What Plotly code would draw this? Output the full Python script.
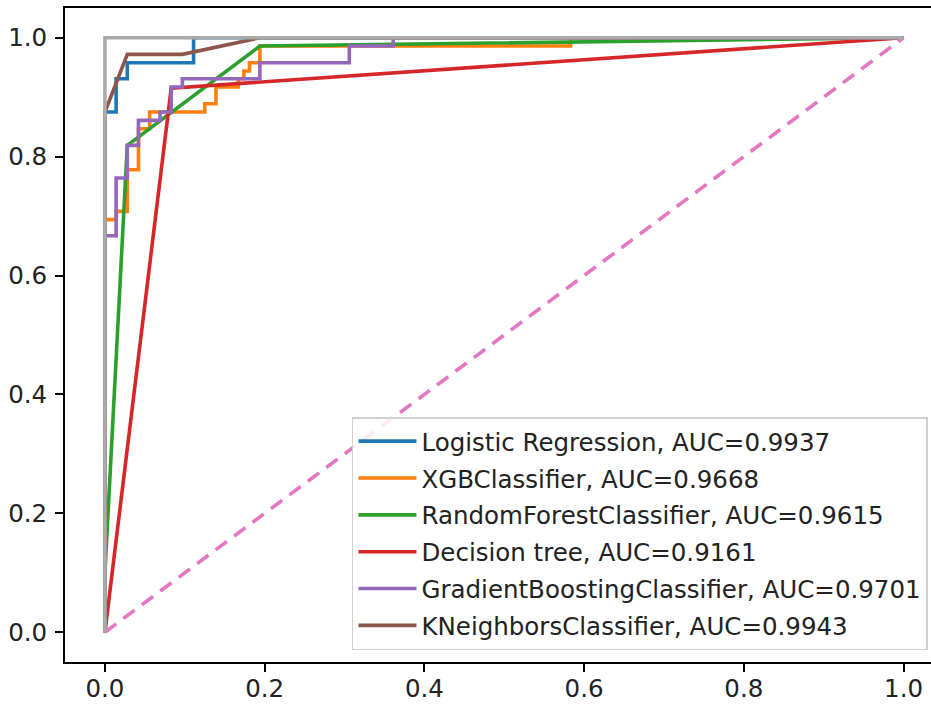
import plotly.graph_objects as go

# ROC curve points (false positive rate, true positive rate) per model
lr_fpr = [0.0, 0.0, 0.014, 0.014, 0.028, 0.028, 0.111, 0.111, 1.0]
lr_tpr = [0.0, 0.875, 0.875, 0.931, 0.931, 0.958, 0.958, 1.0, 1.0]

xgb_fpr = [0.0, 0.0, 0.014, 0.014, 0.028, 0.028, 0.042, 0.042, 0.056, 0.056, 0.125, 0.125,
           0.139, 0.139, 0.167, 0.167, 0.174, 0.174, 0.181, 0.181, 0.194, 0.194, 0.583, 0.583, 1.0]
xgb_tpr = [0.0, 0.694, 0.694, 0.708, 0.708, 0.778, 0.778, 0.847, 0.847, 0.875, 0.875, 0.889,
           0.889, 0.917, 0.917, 0.931, 0.931, 0.944, 0.944, 0.958, 0.958, 0.986, 0.986, 1.0, 1.0]

rf_fpr = [0.0, 0.0, 0.028, 0.194, 1.0]
rf_tpr = [0.0, 0.1, 0.819, 0.986, 1.0]

dt_fpr = [0.0, 0.083, 1.0]
dt_tpr = [0.0, 0.915, 1.0]

gb_fpr = [0.0, 0.0, 0.014, 0.014, 0.028, 0.028, 0.042, 0.042, 0.069, 0.069, 0.083, 0.083,
          0.097, 0.097, 0.194, 0.194, 0.306, 0.306, 0.361, 0.361, 1.0]
gb_tpr = [0.0, 0.667, 0.667, 0.764, 0.764, 0.819, 0.819, 0.861, 0.861, 0.875, 0.875, 0.917,
          0.917, 0.931, 0.931, 0.958, 0.958, 0.986, 0.986, 1.0, 1.0]

knn_fpr = [0.0, 0.0, 0.028, 0.097, 0.194, 1.0]
knn_tpr = [0.0, 0.875, 0.972, 0.972, 1.0, 1.0]

model_names = ["Logistic Regression", "XGBClassifier", "RandomForestClassifier",
               "Decision tree", "GradientBoostingClassifier", "KNeighborsClassifier"]
model_auc = [0.9937, 0.9668, 0.9615, 0.9161, 0.9701, 0.9943]
model_colors = ["#1f77b4", "#ff7f0e", "#2ca02c", "#d62728", "#9467bd", "#8c564b"]

# reference lines: random guess and perfect classifier
chance_x = [0.0, 1.0]
chance_y = [0.0, 1.0]
perfect_x = [0.0, 0.0, 1.0]
perfect_y = [0.0, 1.0, 1.0]

x_ticks = [0.0, 0.2, 0.4, 0.6, 0.8, 1.0]
y_ticks = [0.0, 0.2, 0.4, 0.6, 0.8, 1.0]

curves = [(lr_fpr, lr_tpr), (xgb_fpr, xgb_tpr), (rf_fpr, rf_tpr),
          (dt_fpr, dt_tpr), (gb_fpr, gb_tpr), (knn_fpr, knn_tpr)]

FONT = "DejaVu Sans"

fig = go.Figure()
for i, ((fx, ty), name, auc, col) in enumerate(zip(curves, model_names, model_auc, model_colors)):
    fig.add_trace(go.Scatter(
        x=fx, y=ty, mode="lines",
        name=f"{name}, AUC={auc:.4f}",
        legendgroup=f"g{i}",
        line=dict(color=col, width=3.6),
    ))

fig.add_trace(go.Scatter(
    x=chance_x, y=chance_y, mode="lines", showlegend=False,
    line=dict(color="#e377c2", width=3.6, dash="14px,9px"),
))
fig.add_trace(go.Scatter(
    x=perfect_x, y=perfect_y, mode="lines", showlegend=False,
    line=dict(color="#aaaaaa", width=3.6),
))

fig.update_layout(
    width=931, height=705,
    margin=dict(l=65, r=0, t=8, b=43, autoexpand=False),
    paper_bgcolor="white", plot_bgcolor="white",
    font=dict(family=FONT, size=24, color="#222222"),
    legend=dict(
        x=0.9965, xanchor="right", y=0.018, yanchor="bottom",
        bgcolor="rgba(255,255,255,0.85)",
        bordercolor="#d0d0d0", borderwidth=1.5,
        font=dict(family=FONT, size=24.5, color="#222222"),
        tracegroupgap=2,
        itemwidth=58,
    ),
    xaxis=dict(
        range=[-0.05, 1.0344], tickvals=x_ticks, ticktext=[f"{v:.1f}" for v in x_ticks],
        showgrid=False, zeroline=False, automargin=False,
        showline=True, mirror=True, linecolor="black", linewidth=2,
        ticks="outside", ticklen=8, tickwidth=2, tickcolor="black",
        tickfont=dict(family=FONT, size=24.5, color="#222222"),
        ticklabelstandoff=-4,
    ),
    yaxis=dict(
        range=[-0.05, 1.05], tickvals=y_ticks, ticktext=[f"{v:.1f}" for v in y_ticks],
        showgrid=False, zeroline=False, automargin=False,
        showline=True, mirror=False, linecolor="black", linewidth=2,
        ticks="outside", ticklen=8, tickwidth=2, tickcolor="black",
        tickfont=dict(family=FONT, size=24.5, color="#222222"),
        ticklabelstandoff=3,
    ),
)

fig.write_html("out.html")
